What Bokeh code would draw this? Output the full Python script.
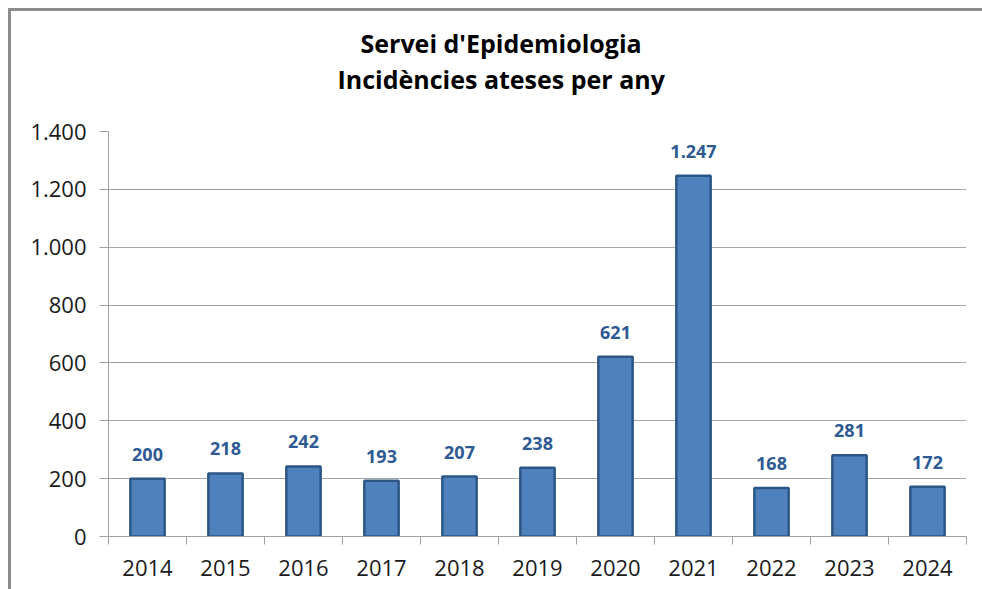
from bokeh.plotting import figure
from bokeh.models import ColumnDataSource, FixedTicker, LabelSet, Title
from bokeh.core.properties import value
from bokeh.embed import file_html
from bokeh.resources import INLINE

years = ["2014", "2015", "2016", "2017", "2018", "2019", "2020", "2021", "2022", "2023", "2024"]
incidencies = [200, 218, 242, 193, 207, 238, 621, 1247, 168, 281, 172]
y_ticks = [0, 200, 400, 600, 800, 1000, 1200, 1400]
y_tick_labels = ["0", "200", "400", "600", "800", "1.000", "1.200", "1.400"]
title_lines = ["Servei d'Epidemiologia", "Incidències ateses per any"]

FONT = "Open Sans"
W, H = 982, 589
LEFT, RIGHT, TOP, BOTTOM = 108, 16, 131, 53

xs = [i + 0.5 for i in range(len(years))]
labels = [f"{v:,}".replace(",", ".") for v in incidencies]
src = ColumnDataSource(dict(x=xs, top=incidencies, label=labels))

p = figure(width=W, height=H, output_backend="svg", toolbar_location=None,
           x_range=(0, len(years)), y_range=(0, 1400))
p.min_border_left = LEFT
p.min_border_right = RIGHT
p.min_border_bottom = BOTTOM
p.min_border_top = TOP
p.outline_line_color = None
p.background_fill_color = "white"
p.border_fill_color = None
p.styles = {"box-shadow": "inset 8px 8px 0 white, inset 11px 11px 0 #8c8c8c",
            "background": "white"}

p.title.text = ""

# invisible spacer panel between the frame and the title lines
spacer = Title(text="\u200b", text_font_size="1px", standoff=33, text_color="white")
p.add_layout(spacer, "above")

# title lines: left-aligned with offsets so each line is centred at x=500
t2 = Title(text=title_lines[1], align="left", offset=229, standoff=0, text_font=FONT,
           text_font_size="25px", text_font_style="bold", text_color="#000000",
           text_line_height=0.9)
t1 = Title(text=title_lines[0], align="left", offset=252, standoff=0, text_font=FONT,
           text_font_size="25px", text_font_style="bold", text_color="#000000")
p.add_layout(t2, "above")
p.add_layout(t1, "above")

p.vbar(x="x", top="top", width=0.44, source=src, fill_color="#4F81BD",
       line_color="#2C5687", line_width=2.5)

lbl = LabelSet(x="x", y="top", text="label", source=src, text_align="center",
               text_baseline="bottom", y_offset=18, text_font=value(FONT),
               text_font_size="18px", text_font_style="bold", text_color="#2E5A94")
p.add_layout(lbl)

p.yaxis.ticker = FixedTicker(ticks=y_ticks)
p.yaxis.major_label_overrides = {t: l for t, l in zip(y_ticks, y_tick_labels)}
p.yaxis.major_label_text_font = FONT
p.yaxis.major_label_text_font_size = "22px"
p.yaxis.major_label_text_color = "#1a1a1a"
p.yaxis.major_tick_out = 9
p.yaxis.major_tick_in = 0
p.yaxis.minor_tick_out = 0
p.yaxis.minor_tick_in = 0
p.yaxis.major_label_standoff = 13
p.yaxis.axis_line_color = "#a0a0a0"
p.yaxis.major_tick_line_color = "#a0a0a0"

p.xaxis.ticker = FixedTicker(ticks=xs, minor_ticks=list(range(len(years) + 1)))
p.xaxis.major_label_overrides = {x: y for x, y in zip(xs, years)}
p.xaxis.major_label_text_font = FONT
p.xaxis.major_label_text_font_size = "22px"
p.xaxis.major_label_text_color = "#1a1a1a"
p.xaxis.major_tick_out = 0
p.xaxis.major_tick_in = 0
p.xaxis.minor_tick_out = 8
p.xaxis.minor_tick_in = 0
p.xaxis.major_label_standoff = 15
p.xaxis.axis_line_color = "#a0a0a0"
p.xaxis.minor_tick_line_color = "#a0a0a0"

p.xgrid.grid_line_color = None
p.ygrid.ticker = FixedTicker(ticks=y_ticks)
p.ygrid.grid_line_color = "#a6a6a6"
p.ygrid.grid_line_width = 1

open("out.html", "w").write(file_html(p, INLINE))
